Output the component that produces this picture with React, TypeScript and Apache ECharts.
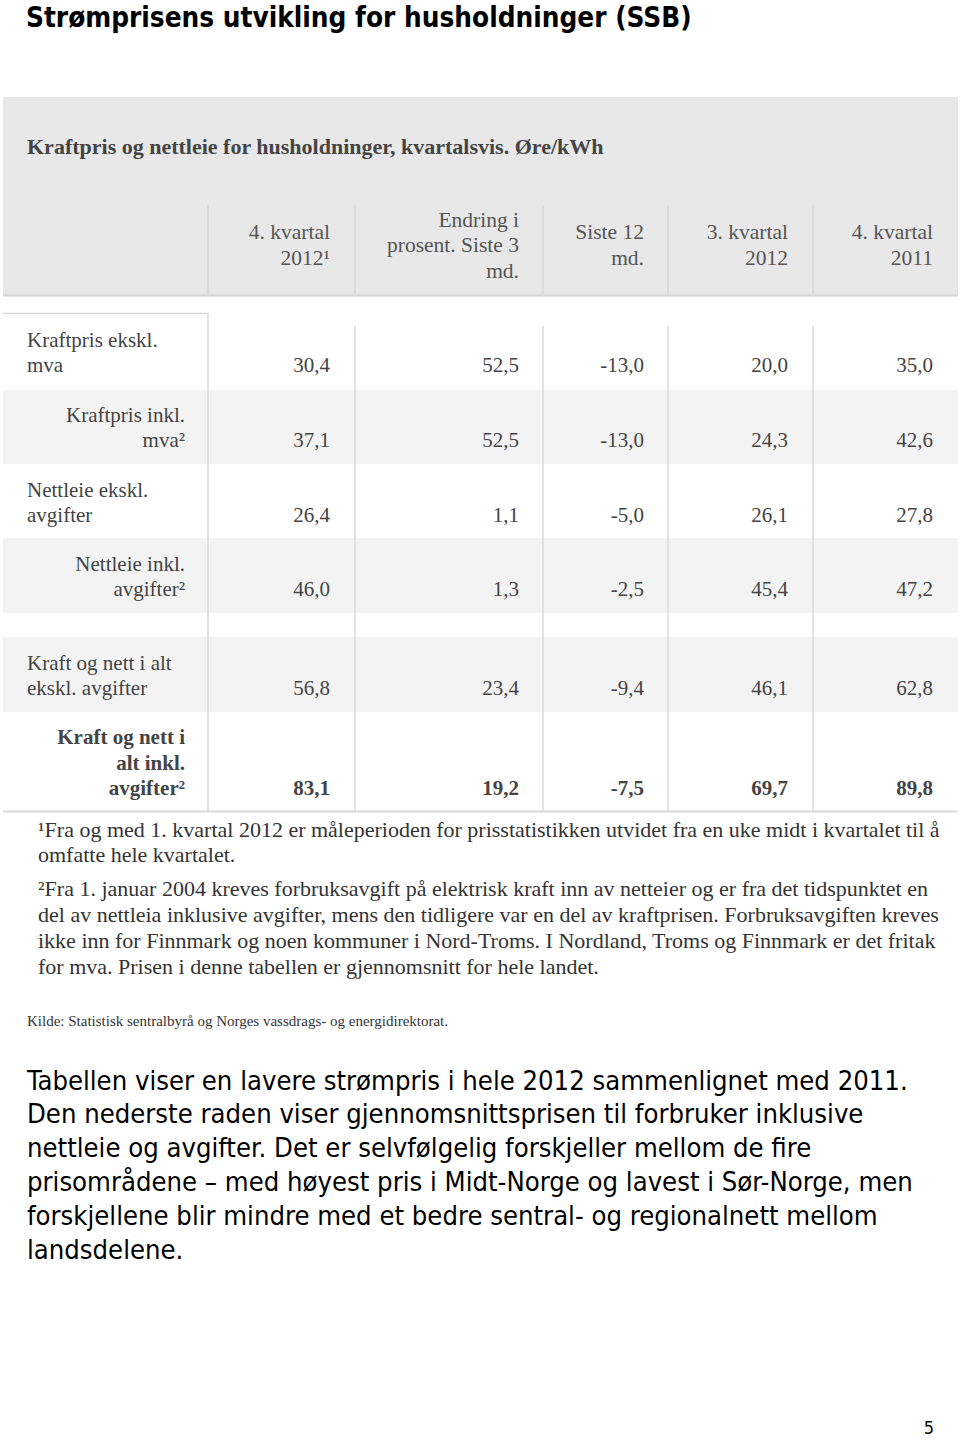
import React, { useEffect, useRef } from "react";
import * as echarts from "echarts";

const pageTitle = "Strømprisens utvikling for husholdninger (SSB)";
const tableTitle = "Kraftpris og nettleie for husholdninger, kvartalsvis. Øre/kWh";
const columnHeaders = [
  "4. kvartal\n2012¹",
  "Endring i\nprosent. Siste 3\nmd.",
  "Siste 12\nmd.",
  "3. kvartal\n2012",
  "4. kvartal\n2011",
];
const rowLabels = [
  "Kraftpris ekskl.\nmva",
  "Kraftpris inkl.\nmva²",
  "Nettleie ekskl.\navgifter",
  "Nettleie inkl.\navgifter²",
  "Kraft og nett i alt\nekskl. avgifter",
  "Kraft og nett i\nalt inkl.\navgifter²",
];
const q4_2012 = [30.4, 37.1, 26.4, 46.0, 56.8, 83.1];
const change3m = [52.5, 52.5, 1.1, 1.3, 23.4, 19.2];
const change12m = [-13.0, -13.0, -5.0, -2.5, -9.4, -7.5];
const q3_2012 = [20.0, 24.3, 26.1, 45.4, 46.1, 69.7];
const q4_2011 = [35.0, 42.6, 27.8, 47.2, 62.8, 89.8];
const footnote1 = [
  "¹Fra og med 1. kvartal 2012 er måleperioden for prisstatistikken utvidet fra en uke midt i kvartalet til å",
  "omfatte hele kvartalet.",
];
const footnote2 = [
  "²Fra 1. januar 2004 kreves forbruksavgift på elektrisk kraft inn av netteier og er fra det tidspunktet en",
  "del av nettleia inklusive avgifter, mens den tidligere var en del av kraftprisen. Forbruksavgiften kreves",
  "ikke inn for Finnmark og noen kommuner i Nord-Troms. I Nordland, Troms og Finnmark er det fritak",
  "for mva. Prisen i denne tabellen er gjennomsnitt for hele landet.",
];
const sourceNote = "Kilde: Statistisk sentralbyrå og Norges vassdrags- og energidirektorat.";
const paragraph = [
  "Tabellen viser en lavere strømpris i hele 2012 sammenlignet med 2011.",
  "Den nederste raden viser gjennomsnittsprisen til forbruker inklusive",
  "nettleie og avgifter. Det er selvfølgelig forskjeller mellom de fire",
  "prisområdene – med høyest pris i Midt-Norge og lavest i Sør-Norge, men",
  "forskjellene blir mindre med et bedre sentral- og regionalnett mellom",
  "landsdelene.",
];
const pageNumber = "5";

const fmt = (v: number) => v.toFixed(1).replace(".", ",");

export default function App() {
  const ref = useRef<HTMLDivElement>(null);
  useEffect(() => {
    if (!ref.current) return;
    const chart = echarts.init(ref.current, null, { renderer: "svg" });
    const serif = "Liberation Serif";
    const sans = "DejaVu Sans Condensed";
    const tableText = "#444";
    const lineCol = "#dadada";
    const colRight = [330, 519, 644, 788, 933];
    const separators = [355, 543, 668, 813];
    const rowBands = [
      [314, 390, false],
      [390, 464, true],
      [464, 538, false],
      [538, 613, true],
      [637, 712, true],
      [712, 811, false],
    ] as [number, number, boolean][];
    const valueY = [365, 440, 515, 589, 688, 788];
    const rightAligned = [false, true, false, true, false, true];
    const cols = [q4_2012, change3m, change12m, q3_2012, q4_2011];
    const els: any[] = [];

    els.push({
      type: "text",
      x: 26,
      y: 17,
      style: {
        text: pageTitle,
        fill: "#000",
        fontFamily: sans,
        fontWeight: "bold",
        fontSize: 27.7,
        verticalAlign: "middle",
      },
    });
    // header
    els.push({ type: "rect", shape: { x: 3, y: 97, width: 955, height: 198 }, style: { fill: "#e8e8e8" } });
    els.push({ type: "line", shape: { x1: 3, y1: 295.5, x2: 958, y2: 295.5 }, style: { stroke: "#d4d4d4", lineWidth: 2 } });
    [208, ...separators].forEach((x) =>
      els.push({ type: "line", shape: { x1: x, y1: 205, x2: x, y2: 295 }, style: { stroke: "#d8d8d8", lineWidth: 1.5 } })
    );
    els.push({
      type: "text",
      x: 27,
      y: 146,
      style: { text: tableTitle, fill: tableText, fontFamily: serif, fontWeight: "bold", fontSize: 22, verticalAlign: "middle" },
    });
    columnHeaders.forEach((h, i) =>
      els.push({
        type: "text",
        x: colRight[i],
        y: 245,
        style: { text: h, fill: "#555", fontFamily: serif, fontSize: 21.5, lineHeight: 25.5, align: "right", verticalAlign: "middle" },
      })
    );
    // body
    rowBands.forEach(([y0, y1, gray]) => {
      if (gray) els.push({ type: "rect", shape: { x: 3, y: y0, width: 955, height: y1 - y0 }, style: { fill: "#f3f3f3" } });
    });
    els.push({ type: "line", shape: { x1: 3, y1: 313.5, x2: 208, y2: 313.5 }, style: { stroke: lineCol, lineWidth: 1.5 } });
    els.push({ type: "line", shape: { x1: 208, y1: 313, x2: 208, y2: 811 }, style: { stroke: lineCol, lineWidth: 1.5 } });
    separators.forEach((x) =>
      els.push({ type: "line", shape: { x1: x, y1: 326, x2: x, y2: 811 }, style: { stroke: lineCol, lineWidth: 1.5 } })
    );
    els.push({ type: "line", shape: { x1: 3, y1: 811.5, x2: 958, y2: 811.5 }, style: { stroke: lineCol, lineWidth: 2 } });

    rowLabels.forEach((lab, r) => {
      const bold = r === rowLabels.length - 1;
      els.push({
        type: "text",
        x: rightAligned[r] ? 185 : 27,
        y: valueY[r] + 12.75,
        style: {
          text: lab,
          fill: tableText,
          fontFamily: serif,
          fontSize: 21,
          fontWeight: bold ? "bold" : "normal",
          lineHeight: 25.5,
          align: rightAligned[r] ? "right" : "left",
          verticalAlign: "bottom",
        },
      });
      cols.forEach((col, c) =>
        els.push({
          type: "text",
          x: colRight[c],
          y: valueY[r],
          style: {
            text: fmt(col[r]),
            fill: tableText,
            fontFamily: serif,
            fontSize: 21,
            fontWeight: bold ? "bold" : "normal",
            align: "right",
            verticalAlign: "middle",
          },
        })
      );
    });

    // footnotes
    els.push({
      type: "text",
      x: 38,
      y: 842,
      style: { text: footnote1.join("\n"), fill: "#333", fontFamily: serif, fontSize: 22, lineHeight: 25.8, verticalAlign: "middle" },
    });
    els.push({
      type: "text",
      x: 38,
      y: 927.5,
      style: { text: footnote2.join("\n"), fill: "#333", fontFamily: serif, fontSize: 22, lineHeight: 25.8, verticalAlign: "middle" },
    });
    els.push({
      type: "text",
      x: 27,
      y: 1021,
      style: { text: sourceNote, fill: "#333", fontFamily: serif, fontSize: 15, verticalAlign: "middle" },
    });
    els.push({
      type: "text",
      x: 27,
      y: 1164.5,
      style: {
        text: paragraph.join("\n"),
        fill: "#000",
        fontFamily: sans,
        fontSize: 27.2,
        lineHeight: 33.8,
        verticalAlign: "middle",
      },
    });
    els.push({
      type: "text",
      x: 929,
      y: 1427,
      style: { text: pageNumber, fill: "#000", fontFamily: sans, fontSize: 18, align: "center", verticalAlign: "middle" },
    });

    chart.setOption({ animation: false, backgroundColor: "#fff", graphic: { elements: els } });
    return () => chart.dispose();
  }, []);
  return <div ref={ref} style={{ position: "absolute", left: 0, top: 0, width: 960, height: 1440 }} />;
}
